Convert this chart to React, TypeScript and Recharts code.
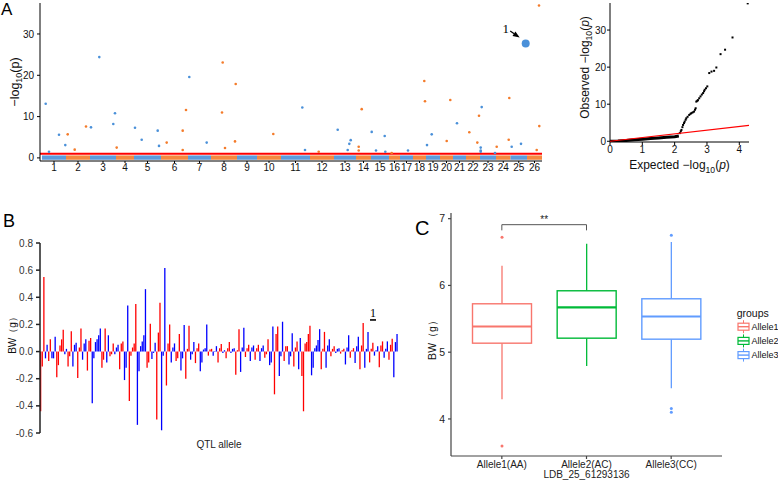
import React from "react";
import {
  Bar,
  BarChart,
  Cell,
  ComposedChart,
  ReferenceArea,
  ReferenceDot,
  ReferenceLine,
  Scatter,
  ScatterChart,
  XAxis,
  YAxis,
} from "recharts";

const FONT = "'Liberation Sans', Arial, Helvetica, sans-serif";
const SERIF = "'Liberation Serif', 'Times New Roman', serif";
const BLUE = "#4A90D9";
const ORANGE = "#F47B2A";

// ---------- A: Manhattan ----------
const chromosomes = ["1", "2", "3", "4", "5", "6", "7", "8", "9", "10", "11", "12", "13",
  "14", "15", "16", "17", "18", "19", "20", "21", "22", "23", "24", "25", "26"];
const chrLengths = [24, 24, 26, 18, 27, 27, 23, 26, 20, 24, 29, 24, 22, 15, 18, 11, 13, 13, 14, 13, 13, 14, 16, 14.5, 16.5, 15];

// [chromosome, position within chromosome, -log10(p)]
const sigSnps: [number, number, number][] = [
  [1, 3.7, 13.1], [1, 7, 1.5], [1, 17, 5.6], [1, 23.3, 3.1],
  [2, 1.7, 5.7], [2, 8.7, 2.0], [2, 20, 7.6],
  [3, 1, 7.4], [3, 9.3, 24.4], [3, 23.3, 8.2], [3, 25, 10.8],
  [4, 0.7, 2.5],
  [5, 1, 7.3], [5, 7.7, 4.4], [5, 23.7, 6.6], [5, 25, 2.9],
  [6, 5.7, 3.7], [6, 21.7, 6.6], [6, 21.7, 1.9], [6, 25, 11.6],
  [7, 1.3, 19.6], [7, 18.7, 3.7],
  [8, 11.7, 23.1], [8, 11, 11.0], [8, 14, 2.4], [8, 24, 4.0], [8, 24.7, 17.9],
  [10, 16.3, 5.8],
  [11, 21.3, 12.2], [11, 24, 1.9],
  [12, 8.7, 1.5],
  [13, 3.7, 6.8], [13, 13.7, 1.9], [13, 15.3, 3.4], [13, 16.7, 4.3],
  [14, 2.7, 2.7], [14, 2.7, 1.8], [14, 5.7, 11.8],
  [15, 0.7, 6.3], [15, 5, 1.8], [15, 13.7, 5.3], [15, 14.3, 1.5],
  [16, 2.7, 1.2],
  [17, 8, 1.8],
  [18, 11.3, 18.6], [18, 12, 13.7],
  [19, 1, 3.1], [19, 5.7, 5.7],
  [20, 6.7, 4.1], [20, 10.3, 14.0],
  [21, 4, 8.4],
  [22, 3.3, 6.2], [22, 11.3, 3.7], [22, 13, 10.2],
  [23, 0.7, 2.5], [23, 0.7, 1.8], [23, 0.7, 1.5], [23, 1.7, 12.3], [23, 15, 1.2],
  [24, 0.7, 2.7], [24, 12.7, 4.4], [24, 13.3, 14.5],
  [25, 1.2, 2.7], [25, 10.5, 3.4],
  [26, 9.7, 1.9], [26, 12.3, 7.7], [26, 12, 36.9],
];
const leadSnp = { chr: 25, pos: 15.2, logp: 27.7, name: "1" };
const threshold = 1;
// the mass of non-significant SNPs sits in this strip
const bulkTop = 0.6;
const bulkBottom = -0.45;

const chrStarts: number[] = [];
chrLengths.reduce((s, len) => {
  chrStarts.push(s);
  return s + len;
}, 0);
const chrMids = chrStarts.map((s, i) => s + chrLengths[i] / 2);
const genomeEnd = chrStarts[chrStarts.length - 1] + chrLengths[chrLengths.length - 1];
const chrColor = (chr: number) => (chr % 2 === 1 ? BLUE : ORANGE);

const snpPoints = sigSnps.map(([chr, pos, p]) => ({ x: chrStarts[chr - 1] + pos, y: p, color: chrColor(chr) }));
const leadPoint = [{ x: chrStarts[leadSnp.chr - 1] + leadSnp.pos, y: leadSnp.logp, name: leadSnp.name }];

// ---------- A: QQ ----------
const qqLower: [number, number][] = [
  [0, 0], [0.25, 0.05], [0.5, 0.2], [0.75, 0.38], [1, 0.55], [1.25, 0.72],
  [1.5, 0.88], [1.75, 1.05], [2, 1.22], [2.13, 1.4],
];
const qqUpper: [number, number][] = [
  [2.16, 2.2], [2.19, 2.7], [2.21, 3.05], [2.24, 3.8], [2.26, 4.4], [2.29, 4.9], [2.31, 5.3],
  [2.34, 5.8], [2.36, 6.2], [2.4, 6.6], [2.45, 7.1], [2.49, 7.4], [2.52, 7.6], [2.56, 7.8],
  [2.6, 8.0], [2.63, 8.5], [2.65, 8.9], [2.67, 10.7], [2.7, 10.9], [2.72, 11.1], [2.76, 11.6],
  [2.8, 12.1], [2.84, 12.6], [2.88, 13.0], [2.91, 13.5], [2.93, 13.9], [2.97, 14.3], [3.01, 14.8],
  [3.07, 18.4], [3.14, 18.8], [3.22, 19.0], [3.29, 19.9], [3.42, 23.5], [3.56, 24.7],
  [3.79, 28.0], [4.26, 37.2],
];
const qqMax = 4.3;

// ---------- B: allele effects per QTL ----------
const qtlEffects: number[][] = [
  [-0.44, -0.11, 0.55], [-0.05, 0.05], [-0.07, 0.09], [-0.05, -0.05, 0.11],
  [-0.19, -0.1, 0.045, 0.09, 0.16], [-0.02, 0.02], [-0.11, -0.035, 0.15], [-0.11, 0.05, 0.065],
  [-0.195, 0.03, 0.17], [-0.06, 0.06, 0.09], [-0.14, 0.08, 0.1], [-0.38, -0.05, 0.07, 0.09, 0.12, 0.17],
  [-0.12, -0.06, 0.17], [-0.08, 0.12], [-0.035, -0.02, 0.06], [-0.02, 0.03, 0.05],
  [-0.13, 0.06, 0.075], [-0.21, -0.12, 0.34], [-0.365, -0.03, 0.03, 0.06, 0.35],
  [-0.54, -0.145, 0.04, 0.075, 0.12, 0.46], [-0.12, -0.08, 0.205], [-0.055, -0.01, 0.065],
  [-0.5, 0.14, 0.36], [-0.58, -0.03, 0.615], [-0.25, 0.06, 0.2], [-0.08, 0.03, 0.06],
  [-0.07, -0.05, 0.13], [-0.14, -0.05, 0.195], [-0.2, 0.02, 0.19], [-0.06, -0.02, 0.07],
  [-0.085, 0.025, 0.06], [-0.145, -0.08, 0.015, 0.025, 0.2], [-0.03, 0.015, 0.02], [-0.03, 0.005, 0.04],
  [-0.08, 0.025, 0.055], [-0.01, 0.01], [-0.05, 0.025, 0.07], [-0.01, 0.02, 0.025],
  [-0.17, 0.01, 0.165], [-0.15, 0.03, 0.175], [-0.04, 0.025, 0.05], [-0.07, 0.03, 0.045],
  [-0.06, 0.025, 0.05], [-0.07, 0.025, 0.045], [-0.045, -0.02, 0.09], [-0.1, -0.08, 0.185],
  [-0.315, 0.13, 0.185], [-0.18, -0.035, 0.22], [-0.07, 0.04, 0.04], [-0.095, -0.035, 0.135],
  [-0.11, 0.03, 0.075], [-0.13, 0.1], [-0.18, -0.44, 0.06, 0.07, 0.13, 0.19],
  [-0.175, -0.12, 0.025, 0.045, 0.085, 0.165], [-0.13, 0.02, 0.145], [-0.12, 0.045, 0.09],
  [-0.035, 0.02, 0.04], [-0.01, 0.02, 0.025], [-0.015, 0.01, 0.02], [-0.095, 0.03, 0.12],
  [-0.045, 0.01, 0.025], [-0.085, 0.04, 0.11], [-0.13, 0.045, 0.21], [-0.12, 0.02, 0.145],
  [-0.08, 0.02, 0.065], [-0.03, 0.01, 0.04], [-0.115, 0.045, 0.075], [-0.045, 0.02, 0.075],
  [-0.06, 0.05, 0.095], [-0.19, 0.07, 0.13],
];
const markedQtl = 64;
const markedLabel = "1";
const markerY = 0.25;

const barData = qtlEffects.flatMap((g, gi) => g.map((v, j) => ({ id: `q${gi}-${j}`, effect: v, group: gi })));
const markerId = `q${markedQtl}-${qtlEffects[markedQtl].length - 1}`;

// ---------- C: boxplot ----------
const alleleNames = ["Allele1(AA)", "Allele2(AC)", "Allele3(CC)"];
const groupNames = ["Allele1", "Allele2", "Allele3"];
const lowerWhisker = [4.295, 4.795, 4.46];
const q1 = [5.135, 5.21, 5.195];
const median = [5.385, 5.67, 5.535];
const q3 = [5.725, 5.92, 5.8];
const upperWhisker = [6.295, 6.625, 6.65];
const outliers = [[6.72, 3.595], [], [6.75, 4.155, 4.1]];
const boxColors = ["#F8766D", "#00BA38", "#619CFF"];
const bracketY = 6.91;
const bracketDrop = 0.085;

const boxData = alleleNames.map((name, i) => ({
  name,
  box: [q1[i], q3[i]],
  q1: q1[i],
  q3: q3[i],
  median: median[i],
  lo: lowerWhisker[i],
  hi: upperWhisker[i],
  outliers: outliers[i],
  color: boxColors[i],
}));

const logLabel = (italic: boolean) => (
  <>
    −log
    <tspan dy={3.5} fontSize="0.72em">10</tspan>
    <tspan dy={-3.5}>(</tspan>
    <tspan fontStyle={italic ? "italic" : "normal"}>p</tspan>
    <tspan>)</tspan>
  </>
);

const rotated = (content: React.ReactNode, dx: number, fontSize: number, dy = 0) => (props: any) => {
  const vb = props.viewBox || { x: 0, y: 0, width: 0, height: 0 };
  const cx = vb.x + dx;
  const cy = vb.y + vb.height / 2 + dy;
  return (
    <text
      transform={`translate(${cx},${cy}) rotate(-90)`}
      textAnchor="middle"
      dominantBaseline="central"
      fontSize={fontSize}
      fontFamily={FONT}
      fill="#111"
    >
      {content}
    </text>
  );
};

const SnpDot = (p: any) => <circle cx={p.cx} cy={p.cy} r={1.3} fill={p.payload.color} />;

const LeadDot = (p: any) => {
  const { cx, cy } = p;
  return (
    <g>
      <circle cx={cx} cy={cy} r={4} fill={BLUE} />
      <line x1={cx - 15.5} y1={cy - 12.5} x2={cx - 11.5} y2={cy - 9.8} stroke="#000" strokeWidth={1.3} />
      <polygon points={`${cx - 6},${cy - 6} ${cx - 13.2},${cy - 7.6} ${cx - 10.3},${cy - 12}`} fill="#000" />
      <text x={cx - 20} y={cy - 10} textAnchor="middle" fontFamily={SERIF} fontSize={13} fill="#000">
        {p.payload.name}
      </text>
    </g>
  );
};

const tickStyle = { fill: "#111", fontSize: 10, fontFamily: FONT };

function Manhattan() {
  return (
    <ScatterChart width={560} height={181} margin={{ top: 3, right: 18, bottom: 0, left: 0 }}>
      {chrStarts.map((s, i) => (
        <ReferenceArea
          key={chromosomes[i]}
          x1={s}
          x2={s + chrLengths[i]}
          y1={bulkBottom}
          y2={bulkTop}
          fill={chrColor(i + 1)}
          fillOpacity={0.9}
          stroke="none"
        />
      ))}
      <ReferenceLine y={threshold} stroke="#FF0000" strokeWidth={1.8} />
      <XAxis
        type="number"
        dataKey="x"
        domain={[-2, genomeEnd]}
        allowDataOverflow
        ticks={chrMids}
        interval={0}
        tickFormatter={(_v: number, i: number) => chromosomes[i]}
        tick={tickStyle}
        tickSize={2}
        tickMargin={1}
        height={20}
        stroke="#000"
      />
      <YAxis
        type="number"
        dataKey="y"
        domain={[-0.75, 37.5]}
        allowDataOverflow
        ticks={[0, 10, 20, 30]}
        width={40}
        tick={tickStyle}
        tickSize={3}
        tickMargin={3}
        stroke="#000"
        label={{ content: rotated(logLabel(false), 15, 12.5) }}
      />
      <Scatter data={snpPoints} shape={SnpDot} isAnimationActive={false} />
      <Scatter data={leadPoint} shape={LeadDot} isAnimationActive={false} />
    </ScatterChart>
  );
}

const Nothing = () => <g />;
const SquareDot = (p: any) => <rect x={p.cx - 1} y={p.cy - 1} width={2} height={2} fill="#000" />;

function QQPlot() {
  const lower = qqLower.map(([x, y]) => ({ x, y }));
  const upper = qqUpper.map(([x, y]) => ({ x, y }));
  const expected = [{ x: 0, y: 0 }, { x: qqMax, y: qqMax }];
  return (
    <ScatterChart width={208} height={175} margin={{ top: 3, right: 29, bottom: 0, left: 0 }}>
      <XAxis
        type="number"
        dataKey="x"
        domain={[0, qqMax]}
        allowDataOverflow
        ticks={[0, 1, 2, 3, 4]}
        tick={tickStyle}
        tickSize={3}
        tickMargin={1}
        height={33}
        stroke="#000"
        label={{
          content: (props: any) => {
            const vb = props.viewBox;
            return (
              <text x={vb.x + vb.width / 2} y={vb.y + 27} textAnchor="middle" fontSize={12} fontFamily={FONT} fill="#111">
                Expected{"  "}
                {logLabel(true)}
              </text>
            );
          },
        }}
      />
      <YAxis
        type="number"
        dataKey="y"
        domain={[-0.2, 37.3]}
        allowDataOverflow
        ticks={[0, 10, 20, 30]}
        width={40}
        tick={tickStyle}
        tickSize={3}
        tickMargin={1}
        stroke="#000"
        label={{ content: rotated(<>Observed{"  "}{logLabel(true)}</>, 15, 12, -5) }}
      />
      <Scatter data={lower} line={{ stroke: "#000", strokeWidth: 3 }} shape={Nothing} isAnimationActive={false} />
      <Scatter data={upper} shape={SquareDot} isAnimationActive={false} />
      <Scatter data={expected} line={{ stroke: "#FF0000", strokeWidth: 1.2 }} shape={Nothing} isAnimationActive={false} />
    </ScatterChart>
  );
}

const QtlMarker = (p: any) => (
  <g>
    <text x={p.cx} y={p.cy - 1} textAnchor="middle" fontFamily={SERIF} fontSize={12} fill="#000">
      {markedLabel}
    </text>
    <rect x={p.cx - 3} y={p.cy + 1.5} width={6} height={1.6} fill="#000" />
  </g>
);

function EffectBars() {
  return (
    <BarChart width={410} height={293} data={barData} margin={{ top: 63, right: 12, bottom: 0, left: 0 }}>
      <XAxis
        dataKey="id"
        axisLine={false}
        tickLine={false}
        tick={false}
        height={40}
        label={{ value: "QTL allele", position: "insideTop", offset: 8, fontSize: 10, fill: "#222", fontFamily: FONT }}
      />
      <YAxis
        domain={[-0.6, 0.8]}
        ticks={[-0.6, -0.4, -0.2, 0, 0.2, 0.4, 0.6, 0.8]}
        tickFormatter={(v: number) => v.toFixed(1)}
        width={40}
        tick={{ ...tickStyle, fill: "#333" }}
        tickSize={4}
        tickMargin={3}
        stroke="#222"
        strokeWidth={1.5}
        label={{ content: rotated("BW（g）", 12, 10, -5) }}
      />
      <Bar dataKey="effect" barSize={1.3} isAnimationActive={false}>
        {barData.map((d) => (
          <Cell key={d.id} fill={d.group % 2 === 0 ? "#FF0000" : "#0000FF"} />
        ))}
      </Bar>
      <ReferenceDot x={markerId} y={markerY} r={0} shape={QtlMarker} />
    </BarChart>
  );
}

const BoxShape = (props: any) => {
  const { x, y, width, height, payload } = props;
  const top = Math.min(y, y + height);
  const h = Math.abs(height);
  const toY = (v: number) => top + (h * (payload.q3 - v)) / (payload.q3 - payload.q1);
  const cx = x + width / 2;
  const c = payload.color;
  return (
    <g>
      <line x1={cx} x2={cx} y1={toY(payload.hi)} y2={toY(payload.q3)} stroke={c} strokeWidth={1.3} />
      <line x1={cx} x2={cx} y1={toY(payload.q1)} y2={toY(payload.lo)} stroke={c} strokeWidth={1.3} />
      <rect x={x} y={top} width={width} height={h} fill="#fff" stroke={c} strokeWidth={1.4} />
      <line x1={x} x2={x + width} y1={toY(payload.median)} y2={toY(payload.median)} stroke={c} strokeWidth={2.2} />
      {payload.outliers.map((o: number, i: number) => (
        <circle key={i} cx={cx} cy={toY(o)} r={1.5} fill={c} />
      ))}
    </g>
  );
};

function AlleleBoxes() {
  const axisColor = "#444";
  return (
    <ComposedChart width={368} height={302} data={boxData} margin={{ top: 33, right: 56, bottom: 0, left: 0 }}>
      <XAxis
        dataKey="name"
        padding={{ left: 8.5, right: 8.5 }}
        height={26}
        tick={{ ...tickStyle, fill: "#222" }}
        tickSize={3}
        tickMargin={2}
        stroke={axisColor}
        strokeWidth={1.2}
        interval={0}
        label={{ value: "LDB_25_61293136", position: "insideBottom", offset: 4, fontSize: 10, fill: "#222", fontFamily: FONT }}
      />
      <YAxis
        type="number"
        domain={[3.445, 7.085]}
        allowDataOverflow
        ticks={[4, 5, 6, 7]}
        width={41}
        tick={{ ...tickStyle, fill: "#222", fontSize: 10.5 }}
        tickSize={3}
        tickMargin={3}
        stroke={axisColor}
        strokeWidth={1.2}
        label={{ content: rotated("BW（g）", 22, 10.5, 3) }}
      />
      <Bar dataKey="box" barSize={59} shape={BoxShape} isAnimationActive={false} />
      <ReferenceLine
        segment={[{ x: alleleNames[0], y: bracketY }, { x: alleleNames[1], y: bracketY }]}
        stroke="#555"
        strokeWidth={1}
        label={{ value: "**", position: "top", offset: 2, fontSize: 10, fill: "#222", fontFamily: FONT }}
      />
      <ReferenceLine
        segment={[{ x: alleleNames[0], y: bracketY }, { x: alleleNames[0], y: bracketY - bracketDrop }]}
        stroke="#555"
        strokeWidth={1}
      />
      <ReferenceLine
        segment={[{ x: alleleNames[1], y: bracketY }, { x: alleleNames[1], y: bracketY - bracketDrop }]}
        stroke="#555"
        strokeWidth={1}
      />
    </ComposedChart>
  );
}

function BoxLegend() {
  return (
    <svg width={50} height={65} style={{ position: "absolute", left: 728, top: 300, overflow: "visible" }}>
      <text x={8.7} y={17} fontSize={10.5} fontFamily={FONT} fill="#111">
        groups
      </text>
      {groupNames.map((g, i) => {
        const cy = 26.7 + i * 14.2;
        const c = boxColors[i];
        return (
          <g key={g}>
            <line x1={15.5} x2={15.5} y1={cy - 6.5} y2={cy + 6.5} stroke={c} strokeWidth={1} />
            <rect x={10} y={cy - 3.5} width={11} height={7} fill="#fff" stroke={c} strokeWidth={1.2} />
            <line x1={10} x2={21} y1={cy} y2={cy} stroke={c} strokeWidth={1.4} />
            <text x={23.5} y={cy + 3.3} fontSize={9} fontFamily={FONT} fill="#111">
              {g}
            </text>
          </g>
        );
      })}
    </svg>
  );
}

export default function App() {
  return (
    <div
      style={{
        position: "absolute",
        left: 0,
        top: 0,
        width: 778,
        height: 482,
        background: "#fff",
        overflow: "hidden",
        fontFamily: FONT,
      }}
    >
      <div style={{ position: "absolute", left: 0, top: 0 }}>
        <Manhattan />
      </div>
      <div style={{ position: "absolute", left: 570, top: 0 }}>
        <QQPlot />
      </div>
      <div style={{ position: "absolute", left: 0, top: 180 }}>
        <EffectBars />
      </div>
      <div style={{ position: "absolute", left: 410, top: 180 }}>
        <AlleleBoxes />
      </div>
      <BoxLegend />
      <svg width={778} height={482} style={{ position: "absolute", left: 0, top: 0, pointerEvents: "none" }}>
        <text x={1} y={15} fontSize={17} fontFamily={FONT} fill="#000">A</text>
        <text x={3} y={227} fontSize={18} fontFamily={FONT} fill="#000">B</text>
        <text x={415} y={235} fontSize={20} fontFamily={FONT} fill="#000">C</text>
      </svg>
    </div>
  );
}
